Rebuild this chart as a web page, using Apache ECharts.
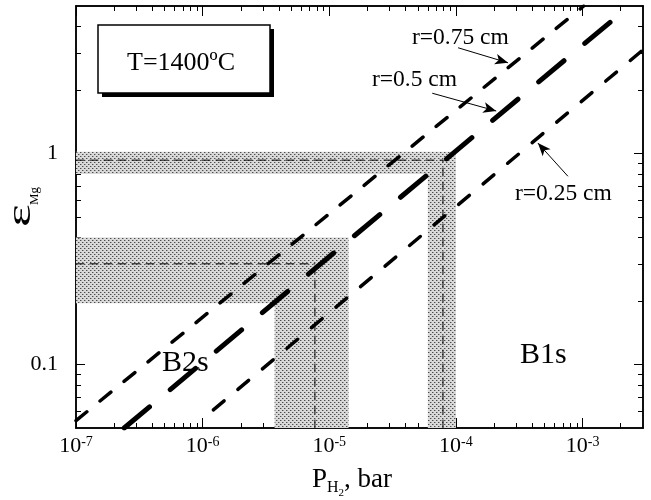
<!DOCTYPE html>
<html lang="en">
<head>
<meta charset="UTF-8">
<title>εMg vs PH2</title>
<script src="https://cdn.jsdelivr.net/npm/echarts@6/dist/echarts.min.js"></script>
<style>
html, body { margin: 0; padding: 0; background: #fff; }
#chart { width: 651px; height: 500px; }
</style>
</head>
<body>
<div id="chart"></div>
<script>
// axis ranges: P(H2) in bar, eps(Mg)
var xRange = [1e-7, 3e-3];
var yRange = [0.05, 5];
var xMajor = [1e-7, 1e-6, 1e-5, 1e-4, 1e-3];
var yMajor = [0.1, 1];
var minorSteps = [2, 3, 4, 5, 6, 7, 8, 9];

// calculated curves, end points [P, eps]
var line075 = [[1e-7, 0.0542], [1.02e-3, 5.0]];
var line05 = [[2.4e-7, 0.05], [2.35e-3, 5.0]];
var line025 = [[1e-6, 0.0552], [3e-3, 3.1]];

// thin dashed guide lines
var guides = [
    [[1e-7, 0.93], [7.9e-5, 0.93]],
    [[7.9e-5, 0.05], [7.9e-5, 0.93]],
    [[1e-7, 0.30], [7.7e-6, 0.30]],
    [[7.7e-6, 0.05], [7.7e-6, 0.30]]
];

// shaded bands [P1, P2, eps1, eps2]
var bands = [
    [1e-7, 1e-4, 0.8, 1.02],
    [6e-5, 1e-4, 0.05, 0.8],
    [1e-7, 1.42e-5, 0.195, 0.4],
    [3.7e-6, 1.42e-5, 0.05, 0.195]
];

// arrows [tail, head]
var arrows = [
    [[1.04e-4, 3.17], [2.58e-4, 2.69]],
    [[6.5e-5, 1.93], [2.08e-4, 1.59]],
    [[7.66e-4, 0.78], [4.44e-4, 1.12]]
];

var font = '"Liberation Serif", "Times New Roman", serif';

function lg(v) { return Math.log10(v); }
function pt(p) { return [lg(p[0]), lg(p[1])]; }

function minorOf(lo, hi) {
    var out = [];
    var e0 = Math.floor(lg(lo)) - 1, e1 = Math.ceil(lg(hi));
    for (var e = e0; e <= e1; e++) {
        for (var k = 0; k < minorSteps.length; k++) {
            var v = minorSteps[k] * Math.pow(10, e);
            if (v > lo * 1.0001 && v < hi * 0.9999) out.push(v);
        }
    }
    return out;
}
var xMinor = minorOf(xRange[0], xRange[1]);
var yMinor = minorOf(yRange[0], yRange[1]);

// dotted fill pattern
var pat = document.createElement('canvas');
pat.width = 4; pat.height = 4;
var pc = pat.getContext('2d');
pc.fillStyle = '#d9d9d9'; pc.fillRect(0, 0, 4, 4);
pc.fillStyle = '#4c4c4c'; pc.fillRect(0, 0, 1, 1); pc.fillRect(2, 2, 1, 1);
pc.fillStyle = '#a0a0a0'; pc.fillRect(1, 0, 1, 1); pc.fillRect(3, 2, 1, 1);

var mctx = document.createElement('canvas').getContext('2d');
function tw(t, fs) { mctx.font = fs + 'px ' + font; return mctx.measureText(t).width; }

function axisBase(isX, pos, ticks, len) {
    var r = isX ? xRange : yRange;
    return {
        type: 'value', position: pos, min: lg(r[0]), max: lg(r[1]),
        axisLine: { show: true, onZero: false, lineStyle: { color: '#000', width: 1.5 } },
        axisTick: { show: true, inside: true, length: len, customValues: ticks.map(lg),
            lineStyle: { color: '#000', width: 1 } },
        axisLabel: { show: false },
        splitLine: { show: false }
    };
}

var xMain = axisBase(true, 'bottom', xMajor, 10);
xMain.axisLabel = {
    show: true, margin: 7, customValues: xMajor.map(lg),
    formatter: function (v) { return '{b|10}{s|' + Math.round(v) + '}'; },
    rich: {
        b: { fontSize: 22, fontFamily: font, color: '#000', verticalAlign: 'top', lineHeight: 24 },
        s: { fontSize: 14, fontFamily: font, color: '#000', verticalAlign: 'top', lineHeight: 16 }
    }
};
var yMain = axisBase(false, 'left', yMajor, 9);
yMain.axisLabel = {
    show: true, margin: 18, customValues: yMajor.map(lg),
    fontSize: 22, fontFamily: font, color: '#000',
    formatter: function (v) { return String(+Math.pow(10, v).toPrecision(1)); }
};

var chart = echarts.init(document.getElementById('chart'));

function lineSeries(d, width, dash, z, offset) {
    return {
        type: 'line', data: d.map(pt), showSymbol: false, symbol: 'none', z: z,
        xAxisIndex: 0, yAxisIndex: 0, silent: true,
        lineStyle: { color: '#000', width: width, type: dash, cap: 'round', dashOffset: offset || 0 }
    };
}

var series = [{
    type: 'line', data: [], xAxisIndex: 0, yAxisIndex: 0, z: 1, silent: true,
    markArea: {
        silent: true,
        itemStyle: { color: { image: pat, repeat: 'repeat' }, opacity: 1, borderWidth: 0 },
        data: bands.map(function (b) {
            return [{ coord: [lg(b[0]), lg(b[2])] }, { coord: [lg(b[1]), lg(b[3])] }];
        })
    },
    markLine: {
        silent: true, symbol: ['none', 'arrow'], symbolSize: [8, 13],
        label: { show: false },
        lineStyle: { color: '#000', width: 1, type: 'solid' },
        data: arrows.map(function (a) {
            return [{ coord: pt(a[0]) }, { coord: pt(a[1]) }];
        })
    }
}];
guides.forEach(function (g) { series.push(lineSeries(g, 1, [8, 6], 2)); });
series.push(lineSeries(line075, 3.5, [14, 17], 3));
series.push(lineSeries(line05, 5, [33, 27], 3));
series.push(lineSeries(line025, 3.5, [14, 18], 3, 18));

// x title pieces
var pX = 312, pB = 489;
var wP = tw('P', 27), wH = tw('H', 16), w2 = tw('2', 11);

var graphic = [
    { type: 'rect', z: 100, shape: { x: 102, y: 29, width: 172, height: 68 }, style: { fill: '#000' } },
    { type: 'rect', z: 101, shape: { x: 98, y: 25, width: 172, height: 68 }, style: { fill: '#fff', stroke: '#000', lineWidth: 1.5 } },
    { type: 'text', z: 102, x: 181, y: 63, style: { text: 'T=1400ºC', fontSize: 26, fontFamily: font, fill: '#000', align: 'center', verticalAlign: 'middle' } },
    { type: 'text', z: 102, x: 412, y: 38, style: { text: 'r=0.75 cm', fontSize: 23.5, fontFamily: font, fill: '#000', align: 'left', verticalAlign: 'middle' } },
    { type: 'text', z: 102, x: 372, y: 80.3, style: { text: 'r=0.5 cm', fontSize: 23.5, fontFamily: font, fill: '#000', align: 'left', verticalAlign: 'middle' } },
    { type: 'text', z: 102, x: 515, y: 193.7, style: { text: 'r=0.25 cm', fontSize: 23.5, fontFamily: font, fill: '#000', align: 'left', verticalAlign: 'middle' } },
    { type: 'text', z: 102, x: 162, y: 363, style: { text: 'B2s', fontSize: 30, fontFamily: font, fill: '#000', align: 'left', verticalAlign: 'middle' } },
    { type: 'text', z: 102, x: 520, y: 355.5, style: { text: 'B1s', fontSize: 30, fontFamily: font, fill: '#000', align: 'left', verticalAlign: 'middle' } },
    // x axis title
    { type: 'text', z: 102, x: pX, y: pB - 9.2, style: { text: 'P', fontSize: 27, fontFamily: font, fill: '#000', align: 'left', verticalAlign: 'middle' } },
    { type: 'text', z: 102, x: pX + wP, y: pB + 4 - 5.4, style: { text: 'H', fontSize: 16, fontFamily: font, fill: '#000', align: 'left', verticalAlign: 'middle' } },
    { type: 'text', z: 102, x: pX + wP + wH, y: pB + 8 - 3.7, style: { text: '2', fontSize: 11, fontFamily: font, fill: '#000', align: 'left', verticalAlign: 'middle' } },
    { type: 'text', z: 102, x: pX + wP + wH + w2, y: pB - 9.2, style: { text: ', bar', fontSize: 27, fontFamily: font, fill: '#000', align: 'left', verticalAlign: 'middle' } },
    // y axis title, rotated
    { type: 'group', z: 102, x: 33, y: 227, rotation: Math.PI / 2, children: [
        { type: 'text', z: 102, x: 0, y: -11.5, scaleX: 1.6, style: { text: 'ε', fontSize: 34, fontFamily: font, fill: '#000', align: 'left', verticalAlign: 'middle' } },
        { type: 'text', z: 102, x: 22, y: 1.7, style: { text: 'Mg', fontSize: 13, fontFamily: font, fill: '#000', align: 'left', verticalAlign: 'middle' } }
    ] }
];

chart.setOption({
    animation: false,
    backgroundColor: '#fff',
    grid: { left: 76, top: 6, right: 8, bottom: 72 },
    xAxis: [xMain, axisBase(true, 'bottom', xMinor, 5), axisBase(true, 'top', xMajor, 10), axisBase(true, 'top', xMinor, 5)],
    yAxis: [yMain, axisBase(false, 'left', yMinor, 5), axisBase(false, 'right', yMajor, 9), axisBase(false, 'right', yMinor, 5)],
    series: series,
    graphic: graphic
});
</script>
</body>
</html>
